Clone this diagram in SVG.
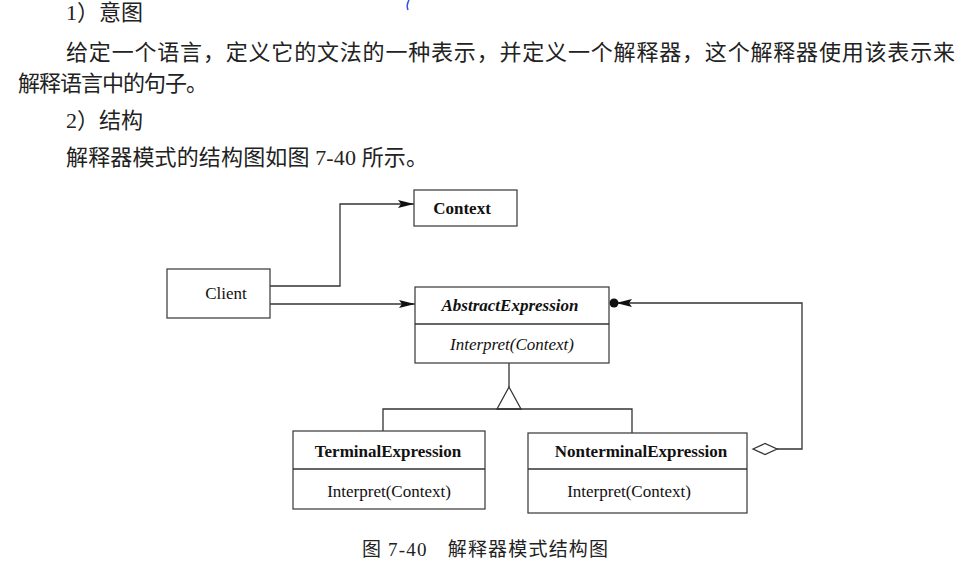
<svg xmlns="http://www.w3.org/2000/svg" width="976" height="582" viewBox="0 0 976 582">
<defs>
<style>
.cn{font-family:"Liberation Serif","Noto Sans CJK SC",serif;font-size:22px;fill:#222}
.t{font-family:"Liberation Serif",serif;font-size:17px;fill:#111}
.b{font-weight:bold}
.i{font-style:italic}
.box{fill:#fff;stroke:#444;stroke-width:1.3}
.ln{fill:none;stroke:#333;stroke-width:1.3}
</style>
<marker id="arr" viewBox="0 0 16 8" refX="16" refY="4" markerWidth="16" markerHeight="8" markerUnits="userSpaceOnUse" orient="auto">
<path d="M0,0 L16,4 L0,8 L3,4 Z" fill="#111"/>
</marker>
</defs>
<rect width="976" height="582" fill="#fff"/>
<path d="M409,0 Q406,5 408,10" fill="none" stroke="#3355dd" stroke-width="1.5"/>
<g id="text">
<text class="cn" x="66" y="20">1）意图</text>
<text class="cn" x="66" y="60" textLength="889" lengthAdjust="spacing">给定一个语言，定义它的文法的一种表示，并定义一个解释器，这个解释器使用该表示来</text>
<text class="cn" x="18" y="91" textLength="190" lengthAdjust="spacing">解释语言中的句子。</text>
<text class="cn" x="66" y="128">2）结构</text>
<text class="cn" x="66" y="165" textLength="362" lengthAdjust="spacing">解释器模式的结构图如图 7-40 所示。</text>
<text class="cn" x="362" y="556" style="font-size:19px" textLength="246" lengthAdjust="spacing">图 7-40　解释器模式结构图</text>
</g>
<g id="connectors">
<polyline class="ln" points="270,286 340,286 340,204 414,204" marker-end="url(#arr)"/>
<line class="ln" x1="270" y1="304" x2="415" y2="304" marker-end="url(#arr)"/>
<polyline class="ln" points="777,449 802,449 802,303 616,303" marker-end="url(#arr)"/>
<circle cx="614" cy="303" r="4.5" fill="#111"/>
<path class="ln" d="M753,449 L765,443.5 L777,449 L765,454.5 Z" style="fill:#fff"/>
<line class="ln" x1="509" y1="363" x2="509" y2="387"/>
<path class="ln" d="M509,387 L497,409 L521,409 Z" style="fill:#fff"/>
<polyline class="ln" points="383,431 383,409 632,409 632,433"/>
</g>
<g id="Context">
<rect class="box" x="414" y="190" width="103" height="36"/>
<text class="t b" x="462" y="214" text-anchor="middle">Context</text>
</g>
<g id="Client">
<rect class="box" x="167" y="269" width="103" height="49"/>
<text class="t" x="226" y="299" text-anchor="middle">Client</text>
</g>
<g id="AbstractExpression">
<rect class="box" x="415" y="287" width="194" height="76"/>
<line class="ln" x1="415" y1="324" x2="609" y2="324"/>
<text class="t b i" x="510" y="311" text-anchor="middle">AbstractExpression</text>
<text class="t i" x="512" y="350" text-anchor="middle">Interpret(Context)</text>
</g>
<g id="TerminalExpression">
<rect class="box" x="293" y="431" width="192" height="78"/>
<line class="ln" x1="293" y1="469" x2="485" y2="469"/>
<text class="t b" x="388" y="457" text-anchor="middle">TerminalExpression</text>
<text class="t" x="389" y="497" text-anchor="middle">Interpret(Context)</text>
</g>
<g id="NonterminalExpression">
<rect class="box" x="528" y="433" width="219" height="80"/>
<line class="ln" x1="528" y1="469" x2="747" y2="469"/>
<text class="t b" x="641" y="457" text-anchor="middle">NonterminalExpression</text>
<text class="t" x="629" y="497" text-anchor="middle">Interpret(Context)</text>
</g>
</svg>
